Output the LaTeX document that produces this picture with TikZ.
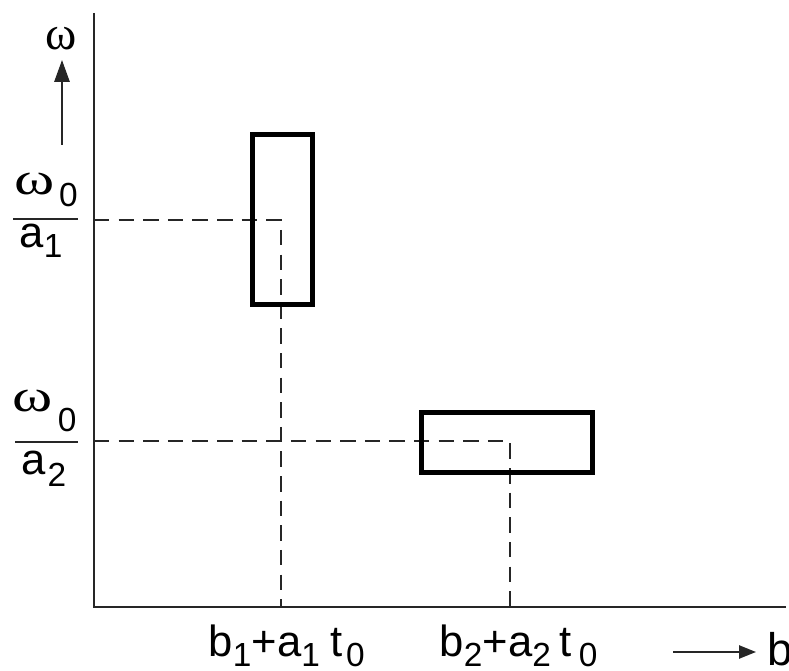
\documentclass[tikz,border=0pt]{standalone}
\usepackage{fontspec}
\usepackage{graphicx}
\setmainfont{Liberation Sans}
\newfontfamily\symfont{Liberation Serif}
\usetikzlibrary{arrows.meta}
\newcommand\mainsz{\fontsize{12.4}{14}\selectfont}
\newcommand\lowsub[2]{\raisebox{-#1}{\fontsize{9.5}{11}\selectfont #2}}
\newcommand\wideom{\scalebox{1.4}[1.05]{\symfont ω}}
\begin{document}
\begin{tikzpicture}[x=0.01cm,y=-0.01cm,
  axis/.style={line width=0.6pt,black!85},
  guide/.style={line width=0.5pt,dash pattern=on 4.4pt off 2.6pt,black!85},
  boxr/.style={draw,line width=1.45pt},
  lbl/.style={font=\mainsz,inner sep=0pt,anchor=base west},
  fbar/.style={line width=0.6pt,black!85},
  ptr/.style={line width=0.6pt,black!85}]
\useasboundingbox (0,0) rectangle (789,671);
% axes
\coordinate (O) at (94,607);
\coordinate (ytop) at (94,13);
\coordinate (xend) at (786,607);
\draw[axis] (ytop) -- (O) -- (xend);
% guide lines
\coordinate (y1) at (94,220);
\coordinate (p1) at (281,220);
\coordinate (x1) at (281,607);
\coordinate (y2) at (94,441);
\coordinate (p2) at (510,441);
\coordinate (x2) at (510,607);
\draw[guide] (y1) -- (p1) -- (x1);
\draw[guide] (y2) -- (p2) -- (x2);
% boxes
\draw[boxr] (252.5,134.5) rectangle (312.5,304.5);
\draw[boxr] (421.5,412.5) rectangle (592.5,472.5);
% omega axis label and arrow
\node[lbl,font=\fontsize{13.5}{15}\selectfont] (om) at (45,50) {\symfont ω};
\coordinate (oma) at (62,145);
\coordinate (omb) at (62,60);
\draw[ptr,-{Triangle[length=6.2pt,width=4.3pt]}] (oma) -- (omb);
% fraction omega_0 / a_1
\node[lbl] (n1) at (14,195) {\wideom\hspace{1.2pt}\lowsub{3.4pt}{0}};
\node[lbl] (d1) at (19,248) {a\lowsub{2.8pt}{1}};
\coordinate (f1a) at (13,219);
\coordinate (f1b) at (78,219);
\draw[fbar] (f1a) -- (f1b);
% fraction omega_0 / a_2
\node[lbl] (n2) at (12,412) {\wideom\hspace{1.4pt}\lowsub{5.5pt}{0}};
\node[lbl] (d2) at (21,475) {a\hspace{0.5pt}\lowsub{3.4pt}{2}};
\coordinate (f2a) at (15,442);
\coordinate (f2b) at (78,442);
\draw[fbar] (f2a) -- (f2b);
% b axis labels
\node[lbl] (t1) at (208,656) {b\lowsub{3.1pt}{1}+a\lowsub{3.1pt}{1}\hspace{3pt}t\hspace{1pt}\lowsub{3.1pt}{0}};
\node[lbl] (t2) at (439,656) {b\lowsub{3.1pt}{2}+a\lowsub{3.1pt}{2}\hspace{2.5pt}t\hspace{2pt}\lowsub{3.1pt}{0}};
\node[lbl,font=\fontsize{13}{15}\selectfont] (bl) at (767,665) {b};
\coordinate (ba) at (673,652);
\coordinate (bb) at (756,652);
\draw[ptr,-{Triangle[length=4.8pt,width=3.7pt]}] (ba) -- (bb);
\end{tikzpicture}
\end{document}
